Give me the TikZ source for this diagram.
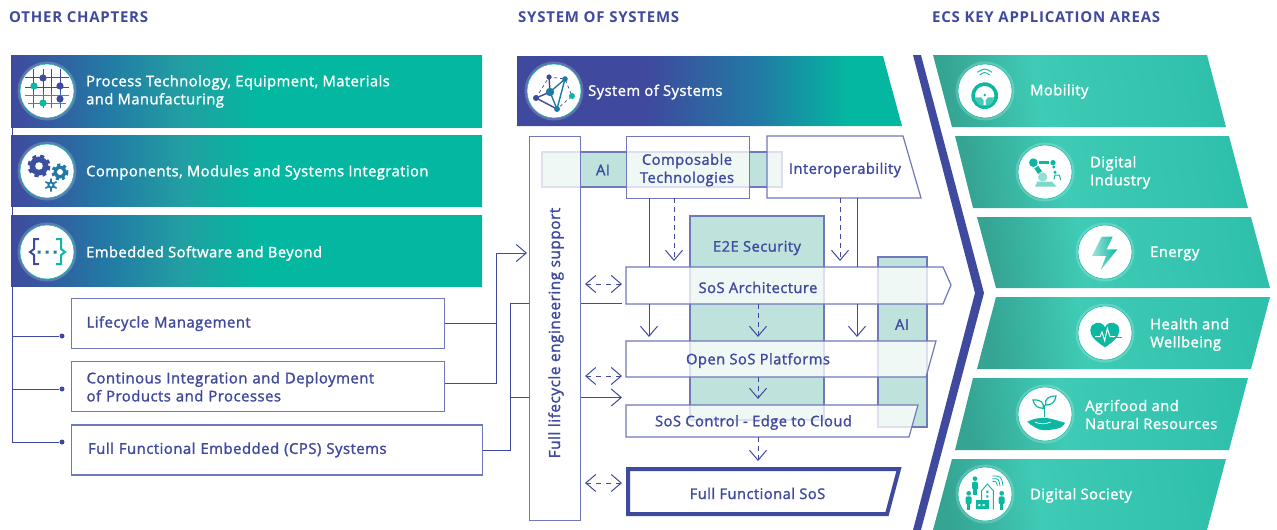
\documentclass[tikz,border=0pt]{standalone}
\usepackage{fontspec}
\setmainfont{Open Sans}[FakeBold=1.6,LetterSpace=3.2]
\newfontfamily\headfont{Open Sans}[LetterSpace=5]
\usetikzlibrary{arrows.meta,positioning}

\definecolor{sysblue}{HTML}{3F4A9E}
\definecolor{linkblue}{HTML}{6F78BA}
\definecolor{bandteal}{HTML}{04B7A0}
\definecolor{aiteal}{HTML}{BFE3DC}
\definecolor{iconteal}{HTML}{0DB8A2}
\definecolor{midblue}{HTML}{2279A5}
\definecolor{midteal}{HTML}{229EA2}
\definecolor{greenlow}{HTML}{35A493}
\definecolor{greenhigh}{HTML}{3FCBB6}
\definecolor{greenend}{HTML}{2FC0AB}

\pgfdeclarehorizontalshading{bandshade}{100bp}{color(0bp)=(sysblue); color(25bp)=(sysblue); color(35bp)=(midblue); color(43bp)=(midteal);
  color(51bp)=(bandteal); color(100bp)=(bandteal)}
\pgfdeclarehorizontalshading{sosshade}{100bp}{color(0bp)=(sysblue); color(42bp)=(sysblue); color(56bp)=(midblue); color(68bp)=(bandteal); color(100bp)=(bandteal)}
\pgfdeclarehorizontalshading{greenshade}{100bp}{color(0bp)=(greenlow); color(25bp)=(greenlow); color(42bp)=(greenhigh); color(75bp)=(greenend); color(100bp)=(greenend)}

\newcommand{\gearicon}[6]{%
  \fill[#5] (#1,#2) circle[radius=#3];
  \draw[#5,line width=3pt,dash pattern=on #6pt off #6pt] (#1,#2) circle[radius=#3+0.5];
  \fill[white] (#1,#2) circle[radius=#4];}
\newcommand{\personicon}[2]{%
  \fill[iconteal] (#1,#2) circle[radius=7];
  \fill[iconteal,rounded corners=2pt] (#1-9,#2+9) rectangle (#1+9,#2+33);
  \fill[iconteal] (#1-5,#2+30) rectangle (#1+5,#2+49);}

\begin{document}
\begin{tikzpicture}[x=1pt,y=-1pt,
    head text/.style={text=sysblue,font=\headfont\bfseries\fontsize{15}{17}\selectfont,anchor=west,inner sep=0pt},
    band text/.style={text=white,font=\fontsize{14.7}{18}\selectfont,align=left,anchor=west,inner sep=0pt},
    box text/.style={text=sysblue,font=\fontsize{14.7}{18}\selectfont,align=center,inner sep=0pt},
    main band/.style={shading=bandshade,minimum width=471pt,anchor=north west,inner sep=0pt},
    area band/.style={shading=greenshade,shading angle=8},
    icon disc/.style={circle,fill=white,draw=iconteal,line width=.5pt,minimum size=54pt,inner sep=0pt,
      preaction={draw=white,draw opacity=.2,line width=5pt}},
    main box/.style={draw=linkblue,line width=1.2pt,fill=white,text=sysblue,font=\fontsize{14.9}{18}\selectfont,align=left,
      anchor=north west,inner ysep=0pt},
    sys box/.style={draw=linkblue,line width=1.2pt,fill=white,fill opacity=.77,draw opacity=1},
    ai band/.style={draw=linkblue,line width=1.2pt,fill=aiteal},
    link/.style={draw=sysblue,line width=1pt},
    flow/.style={link,->,>={Straight Barb[length=10pt,width=17pt]}},
    dash flow/.style={flow,dash pattern=on 5pt off 4pt},
    both flow/.style={flow,<->,dash pattern=on 5pt off 5pt},
    dot/.style={circle,fill=sysblue,inner sep=0pt,minimum size=5pt}]

  \useasboundingbox (0,0) rectangle (1277,530);

  % headings
  \node[head text] (other head) at (9,17) {OTHER CHAPTERS};
  \node[head text] (sos head) at (518,17) {SYSTEM OF SYSTEMS};
  \node[head text] (ecs head) at (932,17) {ECS KEY APPLICATION AREAS};

  % other chapters
  \node[main band,minimum height=72pt] (process) at (11,55) {};
  \node[main band,minimum height=71pt] (components) at (11,135) {};
  \node[main band,minimum height=71pt] (embedded) at (11,215) {};
  \node[band text] (process text) at (86,91.5) {Process Technology, Equipment, Materials\\and Manufacturing};
  \node[band text] (components text) at (86,172.5) {Components, Modules and Systems Integration};
  \node[band text] (embedded text) at (86,253.5) {Embedded Software and Beyond};

  \node[main box,minimum height=50pt,minimum width=373pt,inner xsep=15pt,text width=343pt] (life) at (71,298) {Lifecycle Management};
  \node[main box,minimum height=50pt,minimum width=373pt,inner xsep=15pt,text width=343pt,
    below=12pt of life.south west,anchor=north west] (cicd) {Continous Integration and Deployment\\of Products and Processes};
  \node[main box,minimum height=50pt,minimum width=411pt,inner xsep=16.5pt,text width=378pt,
    below=12pt of cicd.south west,anchor=north west] (cps) {Full Functional Embedded (CPS) Systems};

  \node[dot] (life dot) at (62,336) {};
  \node[dot] (cicd dot) at (62,389) {};
  \node[dot] (cps dot) at (62,442) {};
  \coordinate (rail top) at (12,127);
  \draw[link] (rail top) |- (cps dot);
  \draw[link] (rail top |- life dot) -- (life dot);
  \draw[link] (rail top |- cicd dot) -- (cicd dot);

  % system of systems
  \shade[shading=sosshade] (517,56) -- (883,56) -- (902,126) -- (517,126) -- cycle;
  \node[band text] (sos text) at (588,92) {System of Systems};

  \draw[ai band] (542,152) rectangle (782,187);
  \draw[ai band] (690,216) rectangle (824,420);
  \draw[ai band] (878,257) rectangle (927,427);

  \node[sys box,anchor=north west,minimum width=51pt,minimum height=384pt] (support) at (529,136) {};
  \node[sys box,anchor=north west,minimum width=123pt,minimum height=62pt] (compose) at (626,136) {};
  \draw[sys box] (767,136) -- (903,136) -- (921,198) -- (767,198) -- cycle;
  \draw[sys box] (626,267) -- (943,267) -- (951,285) -- (943,304) -- (626,304) -- cycle;
  \draw[sys box] (626,341) -- (936,341) -- (926,377) -- (626,377) -- cycle;
  \draw[sys box] (626,405) -- (918,405) -- (909,437) -- (626,437) -- cycle;
  \draw[draw=sysblue,line width=4pt,fill=white] (628,469) -- (899,469) -- (887,514) -- (628,514) -- cycle;

  \node[box text,rotate=90,font=\fontsize{15.4}{18}\selectfont] (support text) at (556,333) {Full lifecycle engineering support};
  \node[box text] (ai top) at (603,170) {AI};
  \node[box text] (compose text) at (687,170) {Composable\\Technologies};
  \node[box text] (interop text) at (845,170) {Interoperability};
  \node[box text] (e2e text) at (757,248) {E2E Security};
  \node[box text] (arch text) at (758,287.5) {SoS Architecture};
  \node[box text] (ai side) at (902,324.5) {AI};
  \node[box text] (open text) at (758,360.5) {Open SoS Platforms};
  \node[box text] (control text) at (753.5,422.5) {SoS Control - Edge to Cloud};
  \node[box text] (full text) at (757.5,493.5) {Full Functional SoS};

  % connectors
  \coordinate (join life) at (496,323);
  \coordinate (join cicd) at (496,383);
  \coordinate (join up) at (496,253);
  \coordinate (support in) at (527,253);
  \draw[link] (life.east |- join life) -- (join life);
  \draw[link] (cicd.east |- join cicd) -- (join cicd) -- (join life);
  \draw[flow] (join life) -- (join up) -- (support in);

  \coordinate (cps up) at (510,303);
  \coordinate (cps mid) at (510,397);
  \coordinate (cps out) at (510,450);
  \draw[link] (cps.east |- cps out) -- (cps out) -- (cps up) -- (support.west |- cps up);
  \draw[link] (cps mid) -- (support.west |- cps mid);
  \coordinate (arch left) at (622,303);
  \coordinate (control in) at (622,397.5);
  \draw[link] (support.east |- arch left) -- (arch left);
  \draw[flow] (support.east |- control in) -- (control in);

  \coordinate (left top) at (649,198);
  \coordinate (left mid) at (649,267);
  \coordinate (left low) at (649,304);
  \coordinate (left end) at (649,337);
  \coordinate (right top) at (857,198);
  \coordinate (right mid) at (857,267);
  \coordinate (right low) at (857,304);
  \coordinate (right end) at (857,337);
  \draw[link] (left top) -- (left mid);
  \draw[flow] (left low) -- (left end);
  \draw[link] (right top) -- (right mid);
  \draw[flow] (right low) -- (right end);

  \coordinate (dash a) at (674,198);
  \coordinate (dash a end) at (674,261);
  \coordinate (dash b) at (840,198);
  \coordinate (dash b end) at (840,261);
  \coordinate (dash c) at (758,304);
  \coordinate (dash c end) at (758,337);
  \coordinate (dash d) at (758,377);
  \coordinate (dash d end) at (758,399);
  \coordinate (dash e) at (758,437);
  \coordinate (dash e end) at (758,461);
  \path
    (dash a) edge[dash flow] (dash a end)
    (dash b) edge[dash flow] (dash b end)
    (dash c) edge[dash flow] (dash c end)
    (dash d) edge[dash flow] (dash d end)
    (dash e) edge[dash flow] (dash e end);

  \coordinate (both a) at (585,284);
  \coordinate (both a end) at (622,284);
  \coordinate (both b) at (585,376);
  \coordinate (both b end) at (622,376);
  \coordinate (both c) at (585,483);
  \coordinate (both c end) at (622,483);
  \path
    (both a) edge[both flow] (both a end)
    (both b) edge[both flow] (both b end)
    (both c) edge[both flow] (both c end);

  % big chevron
  \fill[sysblue] (913,55) -- (921,55) -- (984,293) -- (921,530) -- (913,530) -- (975,293) -- cycle;

  % key application areas
  \shade[area band] (933,55) -- (1207,55) -- (1226,127) -- (952,127) -- cycle;
  \shade[area band] (955,136) -- (1229,136) -- (1248,208) -- (973,208) -- cycle;
  \shade[area band] (977,217) -- (1251,217) -- (1270,288) -- (996,288) -- cycle;
  \shade[area band] (996,297) -- (1270,297) -- (1251,369) -- (977,369) -- cycle;
  \shade[area band] (973,378) -- (1248,378) -- (1229,450) -- (955,450) -- cycle;
  \shade[area band] (952,459) -- (1226,459) -- (1207,530) -- (933,530) -- cycle;
  \node[band text] (mobility) at (1030,91.5) {Mobility};
  \node[band text] (industry) at (1090,172.5) {Digital\\Industry};
  \node[band text] (energy) at (1150,253.5) {Energy};
  \node[band text] (health) at (1150,334.5) {Health and\\Wellbeing};
  \node[band text] (agri) at (1085,414.5) {Agrifood and\\Natural Resources};
  \node[band text] (society) at (1030,495.5) {Digital Society};

  % icon discs
  \node[icon disc] (process icon) at (47,91) {};
  \node[icon disc] (components icon) at (47,171) {};
  \node[icon disc] (embedded icon) at (47,252) {};
  \node[icon disc] (sos icon) at (554,91) {};
  \node[icon disc] (mobility icon) at (985,91) {};
  \node[icon disc] (industry icon) at (1045,172) {};
  \node[icon disc] (energy icon) at (1105,252) {};
  \node[icon disc] (health icon) at (1105,333) {};
  \node[icon disc] (agri icon) at (1045,414) {};
  \node[icon disc] (society icon) at (985,494) {};

  % process grid
  \draw[sysblue,line width=.9pt] (25,77) -- (69,77) (25,87) -- (69,87) (33,69) -- (33,92) (43,69) -- (43,92) (51,69) -- (51,92) (60,69) -- (60,92);
  \draw[midblue,line width=.9pt] (33,92) -- (33,108) (43,92) -- (43,108) (51,92) -- (51,108) (60,92) -- (60,108);
  \draw[iconteal!70!midblue,line width=.9pt] (25,95) -- (69,95) (28,103) -- (66,103);
  \fill[sysblue] (43,78) circle[radius=3.6] (60,86) circle[radius=3.6] (60,99) circle[radius=3.6];
  \fill[iconteal] (34,86) circle[radius=3.6] (43,103) circle[radius=3.6];

  % gears
  \gearicon{39}{166}{9.5}{3.8}{sysblue!85!midblue}{4}
  \gearicon{60}{172}{6.5}{3}{midblue}{3}
  \fill[midblue] (51,185) circle[radius=3.6];
  \draw[midblue,line width=1.6pt] (51,178.5) -- (51,191.5) (45.4,181.7) -- (56.6,188.3) (45.4,188.3) -- (56.6,181.7);
  \fill[white] (51,185) circle[radius=1.6];

  % braces
  \draw[sysblue,line width=2pt] (39,239) -- (34,239) -- (34,249) -- (30,252) -- (34,255) -- (34,264) -- (39,264);
  \draw[iconteal,line width=2pt] (56,239) -- (61,239) -- (61,249) -- (65,252) -- (61,255) -- (61,264) -- (56,264);
  \fill[midblue] (37.5,250.5) rectangle (40.5,253.5) (45.5,250.5) rectangle (48.5,253.5) (53.5,250.5) rectangle (56.5,253.5);

  % network
  \draw[sysblue,line width=.7pt,dashed] (536,98) -- (549,77) -- (565,79) -- (572,96) -- (557,109);
  \draw[sysblue,line width=1.4pt] (536,98) -- (557,109) (536,98) -- (550,92) -- (549,77);
  \draw[midblue,line width=1.4pt] (550,92) -- (565,79) -- (557,109) -- (550,92);
  \fill[sysblue] (549,77) circle[radius=2.6] (536,98) circle[radius=3];
  \fill[midblue] (550,92) circle[radius=4.2] (565,79) circle[radius=2.8] (557,109) circle[radius=3];
  \fill[iconteal] (572,96) circle[radius=3];

  % steering wheel
  \begin{scope}[shift={(900,40)},scale=1/3]
    \draw[iconteal,line width=.9pt] (232,97) .. controls (254,84) .. (276,97) (239,105) .. controls (254,95) .. (269,105);
    \fill[iconteal] (254,167) circle[radius=40];
    \fill[white] (254,167) circle[radius=29];
    \fill[iconteal!75] (225,172) -- (244,172) .. controls (252,180) .. (250,197) .. controls (235,195) .. (225,172);
    \fill[iconteal!75] (283,172) -- (264,172) .. controls (256,180) .. (258,197) .. controls (273,195) .. (283,172);
    \fill[iconteal] (254,165) circle[radius=4];
  \end{scope}

  % robot arm
  \begin{scope}[shift={(900,40)},scale=1/3]
    \fill[iconteal!55] (405,440) -- (412,425) -- (455,425) -- (470,440) -- cycle;
    \fill[iconteal!45] (428,411) circle[radius=14];
    \fill[iconteal] (400,368) circle[radius=13];
    \fill[iconteal] (416,364) rectangle (447,372);
    \fill[iconteal] (459,368) circle[radius=8];
    \fill[iconteal] (403,385) -- (415,378) -- (426,394) -- (414,402) -- cycle;
    \fill[iconteal] (461,381) circle[radius=5] (465,397) circle[radius=5];
    \draw[iconteal,line width=1pt] (462,418) -- (465,405) -- (478,405) -- (482,420);
  \end{scope}

  % lightning
  \begin{scope}[shift={(900,40)},scale=1/3]
    \shade[left color=iconteal!40,right color=iconteal] (605,590) -- (638,590) -- (620,628) -- (652,628) -- (602,690) -- (618,648) -- (576,648) -- cycle;
  \end{scope}

  % heart
  \begin{scope}[shift={(900,280)},scale=1/3]
    \fill[iconteal] (615,202) .. controls (590,185) and (570,170) .. (571,150) .. controls (572,125) and (605,120) .. (615,142) .. controls (625,120) and (658,125) .. (658,150) .. controls (658,170) and (640,185) .. (615,202) -- cycle;
    \draw[white,line width=1pt] (585,170) -- (600,170) -- (606,156) -- (614,182) -- (622,145) -- (630,170) -- (645,170);
    \draw[iconteal,line width=1pt] (645,171) -- (666,171);
  \end{scope}

  % sprout in hand
  \begin{scope}[shift={(900,280)},scale=1/3]
    \draw[iconteal,line width=1.1pt] (434,410) -- (434,375);
    \draw[iconteal,line width=1.2pt] (399,360) .. controls (425,358) and (432,370) .. (430,385) .. controls (412,385) and (402,375) .. (399,360) -- cycle;
    \draw[iconteal,line width=1.2pt] (468,348) .. controls (445,348) and (433,358) .. (437,375) .. controls (455,376) and (466,365) .. (468,348) -- cycle;
    \fill[iconteal] (382,425) .. controls (395,418) and (415,412) .. (440,414) .. controls (465,418) and (480,425) .. (495,428) .. controls (490,440) and (480,446) .. (460,448) .. controls (435,453) and (420,452) .. (405,442) .. controls (395,437) and (388,432) .. (382,425) -- cycle;
    \draw[white,line width=.7pt] (405,426) .. controls (420,434) and (440,432) .. (452,426);
  \end{scope}

  % society
  \begin{scope}[shift={(900,280)},scale=1/3]
    \personicon{225}{596}
    \personicon{206}{640}
    \personicon{305}{640}
    \draw[iconteal,line width=.9pt] (245,660) -- (245,632) -- (262,612) -- (280,632) -- (280,688);
    \fill[iconteal] (228,660) rectangle (268,688);
    \fill[white] (235,672) rectangle (241,678) (248,672) rectangle (254,678);
    \fill[iconteal] (259,632) rectangle (265,639) (259,646) rectangle (265,653);
    \draw[iconteal,line width=.8pt] (277,604) .. controls (289,604) .. (292,618)
      (277,596) .. controls (296,596) .. (300,618) (277,588) .. controls (304,588) .. (309,618);
  \end{scope}

\end{tikzpicture}
\end{document}
